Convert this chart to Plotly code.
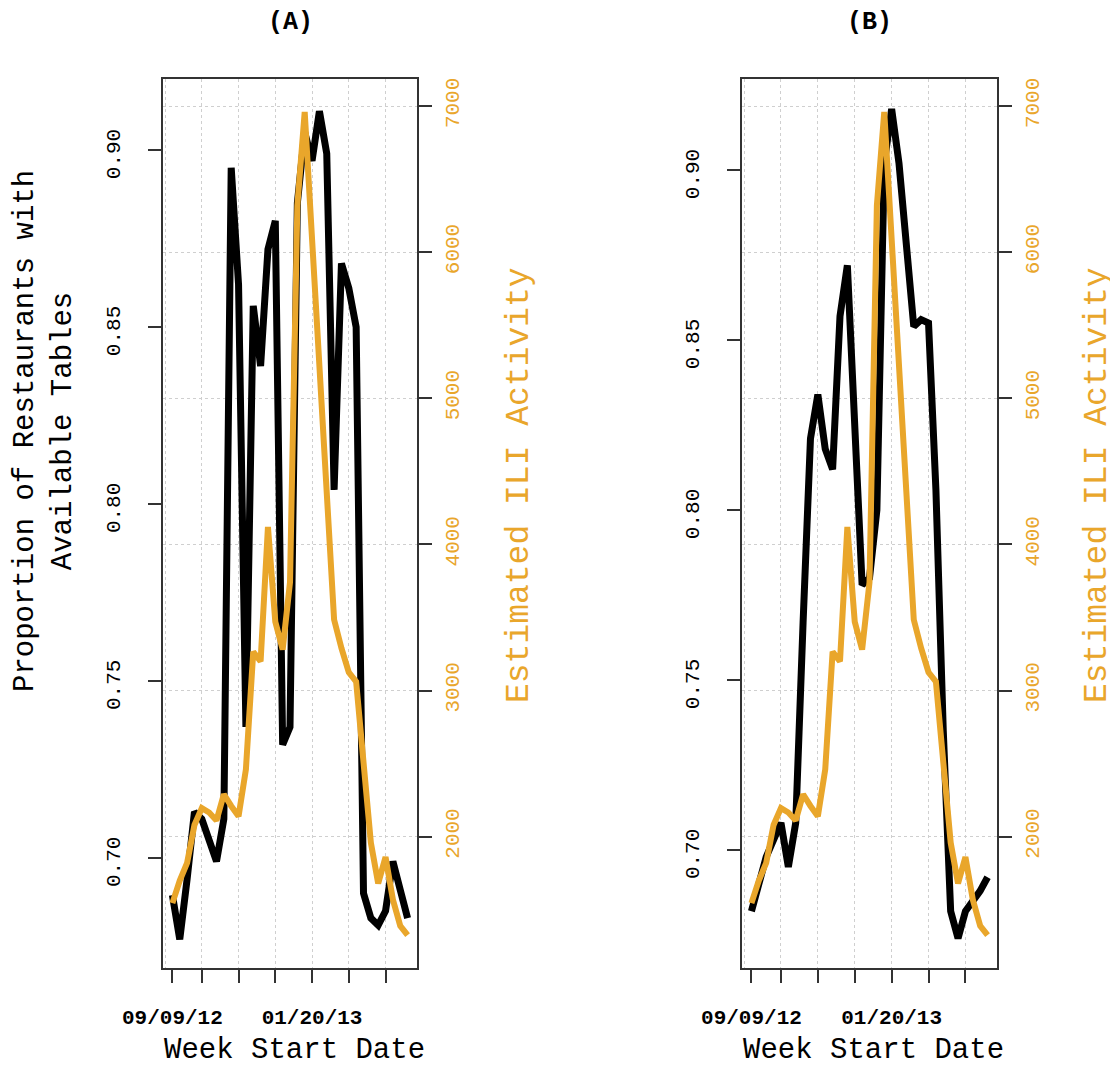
import plotly.graph_objects as go

# ---------------- data ----------------
week_idx = list(range(33))  # weekly, starting 09/09/12
tick_idx = [0, 4, 9, 14, 19, 24, 29]
tick_labels = ["09/09/12", "", "", "", "01/20/13", "", ""]
grid_idx = [-1, 4, 9, 14, 19, 24, 29]

prop_A = [0.6895, 0.677, 0.694, 0.713, 0.711, 0.705, 0.699, 0.711, 0.895, 0.862,
          0.737, 0.856, 0.839, 0.872, 0.880, 0.732, 0.737, 0.885, 0.905, 0.897,
          0.911, 0.899, 0.804, 0.868, 0.861, 0.850, 0.690, 0.683, 0.681, 0.685,
          0.699, 0.691, 0.683]

prop_B = [0.682, 0.690, 0.698, 0.703, 0.708, 0.695, 0.708, 0.767, 0.821, 0.834,
          0.818, 0.812, 0.857, 0.872, 0.828, 0.778, 0.780, 0.800, 0.902, 0.918,
          0.902, 0.878, 0.854, 0.856, 0.855, 0.806, 0.735, 0.682, 0.674, 0.682,
          0.685, 0.688, 0.692]

ili = [1545, 1700, 1820, 2080, 2195, 2165, 2110, 2290, 2210, 2140,
       2460, 3265, 3200, 4120, 3470, 3280, 3740, 6320, 6960, 6050,
       5130, 4230, 3485, 3290, 3125, 3060, 2500, 1960, 1680, 1860,
       1570, 1390, 1326]

left_ticks = [0.70, 0.75, 0.80, 0.85, 0.90]
right_ticks = [2000, 3000, 4000, 5000, 6000, 7000]

# ---------------- style ----------------
OFF = 8                      # page body margin
W, H = 1118 - OFF, 1088 - OFF
ORANGE = "#E9A62B"
FONT = "Liberation Mono, Courier New, monospace"
AXC = "#333333"
GRIDC = "#cfcfcf"

def px(x):
    return (x - OFF) / W

def py(y):
    return 1 - (y - OFF) / H

ydom = [py(968), py(79)]
xdomA = [px(163), px(417)]
xdomB = [px(742), px(997)]

fig = go.Figure()
fig.add_trace(go.Scatter(x=week_idx, y=prop_A, mode="lines", xaxis="x", yaxis="y",
                         line=dict(color="black", width=7), showlegend=False))
fig.add_trace(go.Scatter(x=week_idx, y=ili, mode="lines", xaxis="x", yaxis="y2",
                         line=dict(color=ORANGE, width=6), showlegend=False))
fig.add_trace(go.Scatter(x=week_idx, y=prop_B, mode="lines", xaxis="x2", yaxis="y3",
                         line=dict(color="black", width=7), showlegend=False))
fig.add_trace(go.Scatter(x=week_idx, y=ili, mode="lines", xaxis="x2", yaxis="y4",
                         line=dict(color=ORANGE, width=6), showlegend=False))

def xaxis_cfg(dom, anchor):
    return dict(domain=dom, anchor=anchor, range=[-1.28, 33.28], automargin=False,
                tickmode="array", tickvals=tick_idx, ticktext=tick_labels,
                ticks="outside", ticklen=13, tickwidth=1.5, tickcolor=AXC,
                ticklabelstandoff=16,
                tickfont=dict(family=FONT, size=21, color="black", weight="bold"),
                showline=True, mirror=True, linecolor=AXC, linewidth=1.5,
                showgrid=False, zeroline=False,
                minor=dict(tickmode="array", tickvals=grid_idx, showgrid=True,
                           gridcolor=GRIDC, griddash="dot", gridwidth=1, ticks=""))

def yleft_cfg(dom, anchor, rng):
    return dict(domain=dom, anchor=anchor, range=rng, automargin=False,
                tickmode="array", tickvals=left_ticks,
                ticktext=[f"{v:.2f}" for v in left_ticks],
                tickangle=-90, ticks="outside", ticklen=13, tickwidth=1.5,
                tickcolor=AXC, ticklabelstandoff=20, ticklabelshift=7,
                tickfont=dict(family=FONT, size=21, color="black"),
                showline=True, linecolor=AXC, linewidth=1.5,
                showgrid=False, zeroline=False)

def yright_cfg(anchor, overlay):
    return dict(anchor=anchor, overlaying=overlay, side="right", range=[1101, 7185],
                automargin=False,
                tickmode="array", tickvals=right_ticks,
                ticktext=[str(v) for v in right_ticks],
                tickangle=-90, ticks="outside", ticklen=13, tickwidth=1.5,
                tickcolor=AXC, ticklabelstandoff=2,
                tickfont=dict(family=FONT, size=21, color=ORANGE),
                showline=True, linecolor=AXC, linewidth=1.5,
                showgrid=True, gridcolor=GRIDC, griddash="dot", gridwidth=1,
                zeroline=False)

fig.update_layout(
    width=W, height=H,
    margin=dict(l=0, r=0, t=0, b=0, autoexpand=False),
    paper_bgcolor="white", plot_bgcolor="white",
    xaxis=xaxis_cfg(xdomA, "y"),
    yaxis=yleft_cfg(ydom, "x", [0.6689, 0.9201]),
    yaxis2=yright_cfg("x", "y"),
    xaxis2=xaxis_cfg(xdomB, "y3"),
    yaxis3=yleft_cfg(ydom, "x2", [0.6653, 0.9268]),
    yaxis4=yright_cfg("x2", "y3"),
)

ann = []
for label, cx in [("(A)", 290), ("(B)", 869)]:
    ann.append(dict(text=f"<b>{label}</b>", x=px(cx), y=py(23), xref="paper", yref="paper",
                    showarrow=False, xanchor="center", yanchor="middle",
                    font=dict(family=FONT, size=25, color="black")))
for cx in [294, 873]:
    ann.append(dict(text="Week Start Date", x=px(cx), y=py(1050), xref="paper", yref="paper",
                    showarrow=False, xanchor="center", yanchor="middle",
                    font=dict(family=FONT, size=29, color="black")))
for cx in [519, 1097]:
    ann.append(dict(text="Estimated ILI Activity", x=px(cx), y=py(485), xref="paper",
                    yref="paper", showarrow=False, xanchor="center", yanchor="middle",
                    textangle=-90, font=dict(family=FONT, size=33, color=ORANGE)))
ann.append(dict(text="Proportion of Restaurants with<br>Available Tables", x=px(45), y=py(431),
                xref="paper", yref="paper", showarrow=False, xanchor="center",
                yanchor="middle", textangle=-90,
                font=dict(family=FONT, size=29, color="black")))
fig.update_layout(annotations=ann)

fig.write_html("out.html")
